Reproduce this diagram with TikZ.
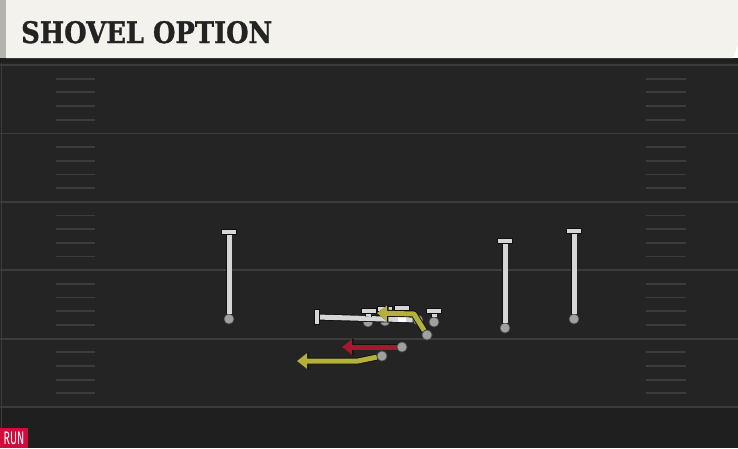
\documentclass[tikz,border=0pt]{standalone}
\usepackage{fontspec}
\usetikzlibrary{arrows.meta}
\newfontfamily\titlefont{DejaVu Serif}[BoldFont={DejaVu Serif Bold}, BoldFeatures={FakeBold=1.2}]
\newfontfamily\runfont{Fira Sans}
\definecolor{fieldbg}{HTML}{242424}
\definecolor{fielddark}{HTML}{1F1F1F}
\definecolor{yardline}{HTML}{3C3C3C}
\definecolor{barcream}{HTML}{F4F2EC}
\definecolor{barside}{HTML}{B4B4B0}
\definecolor{titleink}{HTML}{232323}
\definecolor{routegray}{HTML}{D6D6D6}
\definecolor{dotgray}{HTML}{A0A0A0}
\definecolor{routegold}{HTML}{B4B03C}
\definecolor{routered}{HTML}{A3192F}
\definecolor{runred}{HTML}{D20C3C}
\definecolor{outline}{HTML}{111111}
\tikzset{
  yard/.style={draw=yardline, line width=1.8pt},
  hashmark/.style={draw=yardline, line width=1.8pt},
  blockline/.style={draw=routegray, line width=5pt,
     preaction={draw=outline, line width=6.8pt}},
  tbar/.style={draw=routegray, line width=4.6pt,
     preaction={draw=outline, line width=6.4pt, line cap=rect}, line cap=rect},
  goldroute/.style={draw=routegold, line width=5pt, line join=round,
     -{Triangle[width=15pt,length=10pt]},
     preaction={draw=outline, line width=6.8pt, line join=round, -{Triangle[width=17pt,length=11.5pt]}}},
  redroute/.style={draw=routered, fill=routered, line width=5pt,
     -{Triangle[width=15pt,length=10pt]},
     preaction={draw=outline, line width=6.8pt, -{Triangle[width=17pt,length=11.5pt]}}},
  pdot/.style={circle, fill=dotgray, draw=outline!60!dotgray, line width=0.6pt, minimum size=10pt, inner sep=0pt},
}
\begin{document}
\begin{tikzpicture}[x=1pt,y=-1pt]
\useasboundingbox (0,0) rectangle (738,448);
% field
\fill[fieldbg] (0,58) rectangle (738,448);
\fill[fielddark] (0,407) rectangle (738,448);
\fill[fielddark] (0,58) rectangle (738,63);
\draw[yardline, line width=0.8pt] (1,63) -- (1,448);
% yard lines
\foreach \yy in {65,133.4,201.8,270.2,338.6,407} {
  \draw[yard] (0,\yy) -- (738,\yy);
}
% hash marks
\foreach \yb in {65,133.4,201.8,270.2,338.6} {
  \foreach \k in {1,2,3,4} {
    \draw[hashmark] (56,\yb+13.68*\k) -- (95,\yb+13.68*\k);
    \draw[hashmark] (646,\yb+13.68*\k) -- (686,\yb+13.68*\k);
  }
}
% title bar
\fill[barside] (0,0) rectangle (6,58);
\fill[barcream] (6,0) -- (738,0) -- (738,44) -- (733,58) -- (6,58) -- cycle;
\node[anchor=base west, inner sep=0pt, text=titleink] (title) at (21,43)
  {\resizebox{251pt}{22pt}{\titlefont\bfseries\fontsize{30pt}{30pt}\selectfont SHOVEL OPTION}};
% RUN tag
\fill[runred] (0,428) rectangle (28,448);
\node[anchor=base west, inner sep=0pt, text=white] (run) at (3.5,444)
  {\resizebox{20.5pt}{12.5pt}{\runfont RUN}};

% receivers
\node[pdot] (wr1) at (229,319) {};
\coordinate (wr1t) at (229,232);
\draw[blockline] (wr1) -- (wr1t);
\draw[tbar] (224,232) -- (234,232);
\node[pdot] (wr2) at (505,328) {};
\coordinate (wr2t) at (505,241);
\draw[blockline] (wr2) -- (wr2t);
\draw[tbar] (500,241) -- (510,241);
\node[pdot] (wr3) at (574,319) {};
\coordinate (wr3t) at (574,231);
\draw[blockline] (wr3) -- (wr3t);
\draw[tbar] (569,231) -- (579,231);

% line
\coordinate (pullt) at (317,317);
\node[pdot] (ol1) at (368,322) {};
\node[pdot] (ol2) at (385,321) {};
\node[pdot] (ol4) at (418,320) {};
\node[pdot] (ol5) at (434,322) {};
\draw[blockline] (ol4) -- (pullt);
\draw[tbar] (317,312) -- (317,322);
\coordinate (t1) at (369,311);
\coordinate (t2) at (385,309);
\coordinate (t3) at (402,308);
\coordinate (t5) at (434,311);
\draw[blockline] (ol1) -- (t1);
\draw[tbar] (364,311) -- (374,311);
\draw[blockline] (ol2) -- (t2);
\draw[tbar] (380,309) -- (390,309);
\draw[blockline] (402,318) -- (t3);
\draw[tbar] (397,308) -- (407,308);
\draw[blockline] (ol5) -- (t5);
\draw[tbar] (429,311) -- (439,311);
\node[fill=white, minimum size=8pt, inner sep=0pt] (ball) at (402,318) {};

% gold route 1 (shovel)
\node[pdot] (g1) at (427,335) {};
\coordinate (g1b) at (414,314);
\coordinate (g1e) at (377,313);
\draw[goldroute] (g1) -- (g1b) -- (g1e);

% red route
\node[pdot] (r1) at (402,347) {};
\coordinate (r1e) at (342,347);
\draw[redroute] (r1) -- (r1e);

% gold route 2
\node[pdot] (g2) at (382,356) {};
\coordinate (g2b) at (358,361);
\coordinate (g2e) at (297,361);
\draw[goldroute] (g2) -- (g2b) -- (g2e);
\node[pdot] at (g1) {};
\node[pdot] at (r1) {};
\node[pdot] at (g2) {};
\end{tikzpicture}
\end{document}
